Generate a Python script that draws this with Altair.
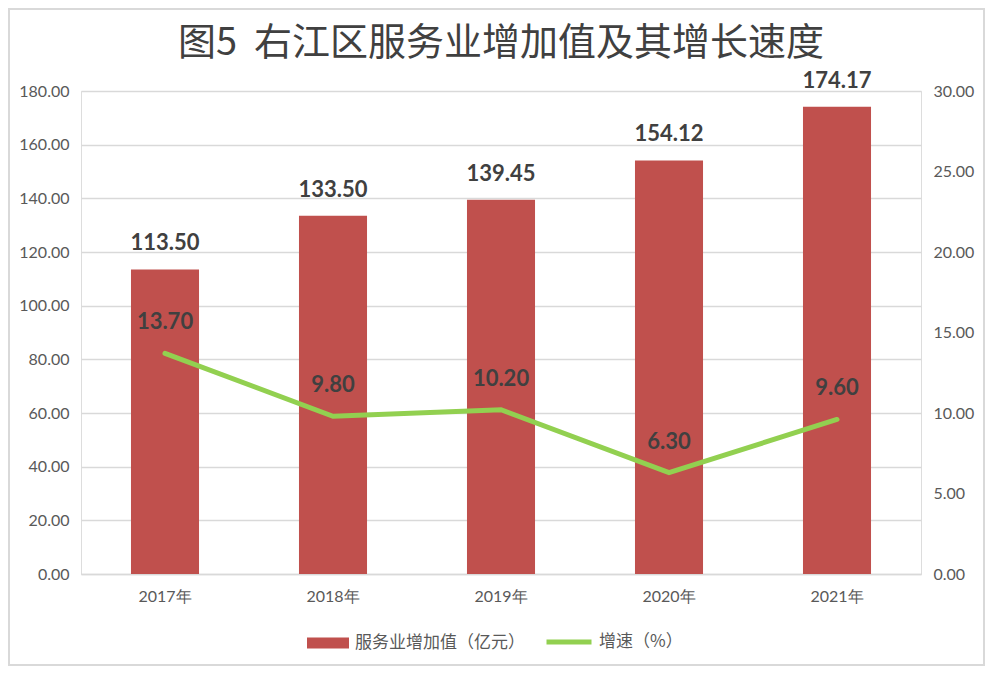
import altair as alt
import pandas as pd

years = ["2017年", "2018年", "2019年", "2020年", "2021年"]
value_added = [113.50, 133.50, 139.45, 154.12, 174.17]
growth = [13.70, 9.80, 10.20, 6.30, 9.60]
bar_name = "服务业增加值（亿元）"
line_name = "增速（%）"
left_ticks = [0, 20, 40, 60, 80, 100, 120, 140, 160, 180]
right_ticks = [0, 5, 10, 15, 20, 25, 30]

df = pd.DataFrame({
    "year": years,
    "value": value_added,
    "growth": growth,
    "s1": [bar_name] * len(years),
    "s2": [line_name] * len(years),
})

W, H = 840, 483
PL, PT, PR, PB = 73, 83, 64, 92

TXT = "#404040"
LBL = "#595959"
GRID = "#D9D9D9"

x_enc = alt.X(
    "year:N", sort=years,
    scale=alt.Scale(paddingInner=0.595, paddingOuter=0.2975),
    axis=alt.Axis(title=None, labelAngle=0, ticks=False, domain=True,
                  domainColor=GRID, domainWidth=1.5, labelPadding=14,
                  labelFont="Lato", labelFontSize=16, labelColor=LBL, grid=False),
)

y_left = alt.Y(
    "value:Q",
    scale=alt.Scale(domain=[0, 180], nice=False, zero=True),
    axis=alt.Axis(title=None, values=left_ticks, format=".2f", ticks=False, domain=False,
                  grid=True, gridColor=GRID, gridWidth=1.5, labelPadding=12,
                  labelFont="Lato", labelFontSize=16, labelColor=LBL, orient="left"),
)

y_right = alt.Y(
    "growth:Q",
    scale=alt.Scale(domain=[0, 30], nice=False, zero=True),
    axis=alt.Axis(title=None, values=right_ticks, format=".2f", ticks=False, domain=False,
                  grid=False, labelPadding=12,
                  labelFont="Lato", labelFontSize=16, labelColor=LBL, orient="right"),
)

base = alt.Chart(df)

bars = base.mark_bar().encode(
    x=x_enc,
    y=y_left,
    color=alt.Color(
        "s1:N",
        scale=alt.Scale(domain=[bar_name], range=["#C0504D"]),
        legend=alt.Legend(title=None, orient="none", legendX=226, legendY=531,
                          symbolType="M-1,-0.26H1V0.26H-1Z", symbolSize=1764,
                          symbolStrokeWidth=0, symbolOpacity=1, labelLimit=400,
                          labelFont="Noto Sans CJK SC", labelFontSize=17,
                          labelColor=LBL, labelOffset=6),
    ),
)

bar_text = base.mark_text(
    font="Lato", fontSize=22, fontWeight="bold", color=TXT,
    baseline="alphabetic", dy=-19,
).encode(
    x=alt.X("year:N", sort=years),
    y=alt.Y("value:Q"),
    text=alt.Text("value:Q", format=".2f"),
)

line = base.mark_line(strokeWidth=5, strokeCap="round").encode(
    x=alt.X("year:N", sort=years),
    y=y_right,
    color=alt.Color(
        "s2:N",
        scale=alt.Scale(domain=[line_name], range=["#92D050"]),
        legend=alt.Legend(title=None, orient="none", legendX=463, legendY=526,
                          symbolType="stroke", symbolSize=2025, symbolStrokeWidth=5,
                          labelLimit=400,
                          labelFont="Noto Sans CJK SC", labelFontSize=17,
                          labelColor=LBL, labelOffset=5),
    ),
)

line_text = base.mark_text(
    font="Lato", fontSize=22, fontWeight="bold", color=TXT,
    baseline="alphabetic", dy=-24,
).encode(
    x=alt.X("year:N", sort=years),
    y=alt.Y("growth:Q"),
    text=alt.Text("growth:Q", format=".2f"),
)

border = alt.Chart(pd.DataFrame({"b": [0]})).mark_rect(
    fill="transparent", stroke=GRID, strokeWidth=2
).encode(
    x=alt.value(-PL + 1), x2=alt.value(W + PR - 1),
    y=alt.value(-PT + 1), y2=alt.value(H + PB - 1),
)

left_layer = alt.layer(bars, bar_text)
right_layer = alt.layer(line, line_text)

chart = alt.layer(left_layer, right_layer, border).resolve_scale(
    y="independent", color="independent"
).properties(
    width=W, height=H,
    padding={"left": PL, "top": PT, "right": PR, "bottom": PB},
    autosize=alt.AutoSizeParams(type="none"),
    title=alt.TitleParams(
        "图5\u00a0\u00a0右江区服务业增加值及其增长速度",
        font="Noto Sans CJK SC", fontSize=38, fontWeight="normal", color=TXT,
        anchor="middle", offset=-55,
    ),
).configure_view(stroke=None).configure(background="white")

chart.save("out.html", embed_options={"renderer": "svg", "actions": False})
